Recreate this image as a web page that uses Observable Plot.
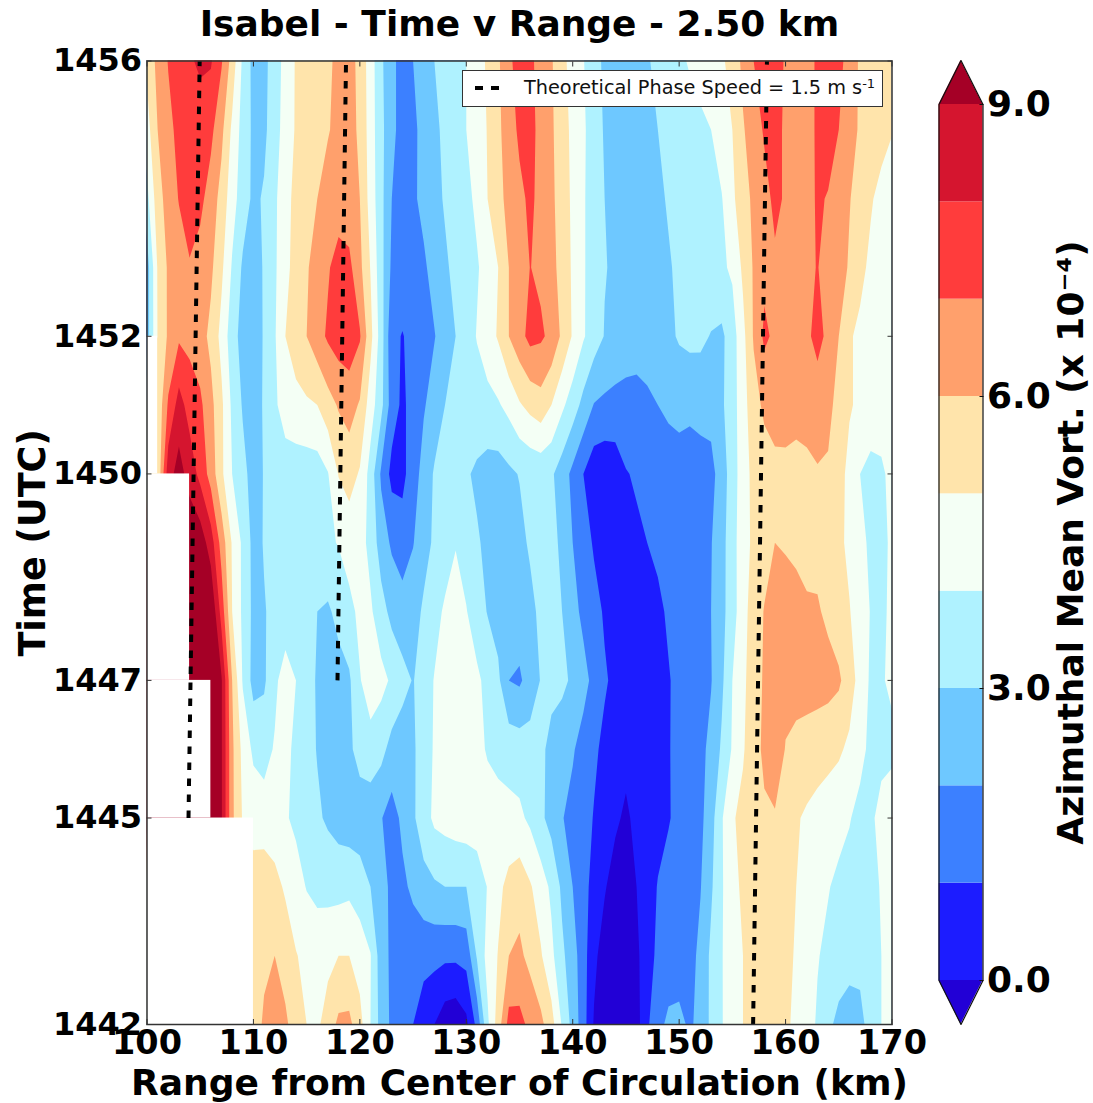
<!DOCTYPE html>
<html>
<head>
<meta charset="utf-8">
<script src="https://cdn.jsdelivr.net/npm/d3@7"></script>
<script src="https://cdn.jsdelivr.net/npm/@observablehq/plot@0.6"></script>
<style>
html,body{margin:0;padding:0;background:#fff;}
#wrap{position:relative;width:1093px;height:1103px;overflow:hidden;font-family:"DejaVu Sans",sans-serif;}
#wrap svg{position:absolute;left:0;top:0;}
#legend{position:absolute;left:462px;top:70px;width:419px;height:35px;background:#fff;border:1.5px solid #333;box-sizing:content-box;}
#legend svg{position:absolute;left:12px;top:0;}
#legend span{position:absolute;left:61px;top:5px;font-size:19.3px;line-height:24px;color:#111;white-space:nowrap;}
#legend sup{font-size:13px;line-height:0;vertical-align:6px;}
</style>
</head>
<body>
<div id="wrap"></div>
<script>
const xFirst = 100, xLast = 170;
const xTicks = [100,110,120,130,140,150,160,170];
const timeTicks = [1442,1445,1447,1450,1452,1456];
const levels = [0,1,2,3,4,5,6,7,8,9];
const barTicks = [0,3,6,9];
const colors = ["#2200d6","#1c1cff","#3c80ff","#6ec8ff","#aff2ff","#f4fff5","#ffe4ab","#ffa06c","#ff3c3c","#d5152f","#a50026"];

// Azimuthal mean vorticity (x 10^-4), one array per minute, range 100..170 km every 1 km. null = no data.
const t1456 = [5.2,6.3,7.05,7.4,7.85,8.2,8.1,7.1,5.6,3.8,
 2.7,2.7,3.55,4.3,5.1,5.35,5.6,5.85,6.2,6.4,
 5.7,4.5,3.2,2.2,1.7,2,2.5,3,3.3,3.7,
 4,4.55,5.15,5.85,6.8,7.4,7.2,6.65,6.1,5.3,
 4.6,4.05,3.4,2.8,2.5,2.4,2.5,2.9,3.25,3.55,
 3.8,4.1,4.35,4.6,4.85,5.35,6.25,7,7.4,7.4,
 6.9,6.65,6.75,7.1,7.4,7.3,6.6,5.85,5.7,5.6,5.5];
const t1455 = [4.6,6,6.75,7.25,7.45,7.4,7.25,6.25,4.8,3.6,
 2.8,2.8,3.55,4.45,5.1,5.4,5.7,5.95,6.2,6.3,
 5.85,4.5,3.3,2.2,1.7,1.8,2.3,2.8,3.2,3.6,
 4,4.5,5.05,5.8,6.5,7.2,7.25,6.75,6.15,5.45,
 4.75,4.15,3.5,2.9,2.6,2.5,2.6,2.8,3,3.2,
 3.4,3.6,3.8,4,4.5,5,5.9,6.55,7.1,7.3,
 6.85,6.6,6.75,7.1,7.35,7,6.3,5.9,5.6,5.35,5.05];
const t1454 = [3.7,5.6,6.4,7.05,7.3,7.25,6.55,5.65,4.4,3.5,
 2.8,3.1,3.8,4.7,5.25,5.6,6,6.3,6.5,6.4,
 6,4.6,3.3,2,1.7,1.85,2.25,2.7,3.1,3.45,
 3.75,4.2,5,5.7,6.3,6.75,7.2,6.7,6.2,5.55,
 4.8,4.1,3.55,3,2.75,2.65,2.7,2.75,2.9,3.05,
 3.25,3.4,3.6,3.8,3.95,4.8,5.6,6.2,6.7,7.2,
 6.9,6.7,6.7,7.1,6.95,6.5,6.05,5.6,5.1,4.7,4.5];
const t1453 = [2.5,5.1,6.15,6.5,6.95,6.6,6.2,5.2,3.9,2.85,
 2.5,3.1,3.85,4.7,5.4,5.9,6.4,6.9,7.4,7.25,
 6.25,4.95,3.35,1.8,1.6,1.65,1.85,2.35,2.85,3.25,
 3.55,3.9,4.4,5,6,6.4,7.02,6.8,6.3,5.65,
 4.85,4.1,3.55,3.05,2.85,2.75,2.7,2.75,2.8,2.95,
 3.1,3.3,3.5,3.65,3.85,4.15,5.2,6.1,6.75,6.85,
 6.7,6.75,6.85,7.03,6.7,6.4,5.9,5.25,4.8,4.6,4.4];
const t1452 = [2.5,5.05,6.15,6.85,6.7,6.4,5.75,4.7,3.45,2.6,
 2.4,3.1,3.9,5,5.5,6,6.6,7.15,7.5,7.6,
 7.1,5.3,3.5,1.25,0.95,1.3,1.65,1.95,2.5,3,
 3.55,4.05,4.55,5.1,6,6.65,7.3,7.15,6.75,5.8,
 4.9,4.1,3.5,2.95,2.7,2.6,2.5,2.5,2.6,2.8,
 3.1,3.25,3.2,2.95,2.8,3.55,4.7,6.1,7.2,6.8,
 6.6,6.6,6.75,7.4,6.7,6,5.1,4.8,4.6,4.4,4.2];
const t1451 = [null,5.2,7.15,8.4,7.6,7.2,6.3,5.2,3.8,2.9,
 2.55,3.1,3.8,4.55,4.7,4.85,5,5.6,6.1,6.4,
 5.9,4.5,3.3,1.5,0.8,1.4,1.9,2.45,3,3.2,
 3.35,3.55,3.7,3.9,4.3,4.9,5.3,5.6,5,4.2,
 3.5,2.7,1.95,1.8,1.7,1.6,1.6,1.8,2,2.2,
 2.3,2.2,2.35,2.4,2.85,3.55,4.6,5.6,6.2,6.3,
 6.4,6.5,6.4,6.3,6.2,5.75,5.1,4.8,4.6,4.45,4.3];
const t1450 = [null,5.1,8.6,9.4,8.6,7.7,6.6,5.2,4,3.3,
 2.6,3.05,3.25,3.4,3.45,3.45,3.5,3.95,5.05,5.4,
 4.9,3.6,1.85,0.7,0.75,1.5,2.4,3.1,3.3,3.25,
 3.1,2.85,2.6,2.55,2.8,3.05,3.2,3.3,3.15,2.5,
 1.75,1,0.35,0.25,0.4,0.95,1.1,1.25,1.35,1.45,
 1.55,1.55,1.55,1.65,2.55,3.45,4.6,5.25,5.5,5.8,
 5.75,5.5,5.75,5.95,5.9,5.4,4.7,4,3.7,3.85,4.25];
const t1449 = [null,null,null,null,9.8,9.6,8.5,6.6,4.9,3.8,
 2.7,3.05,3.2,3.3,3.45,3.55,3.7,3.85,4.05,4.4,
 4.4,3.7,2.5,1.85,1.45,1.95,2.65,3.15,3.5,3.95,
 3.55,3.1,2.8,2.6,2.5,2.7,3.15,3.4,3.3,2.8,
 2,1.4,0.9,0.7,0.65,0.7,0.85,1,1.15,1.3,
 1.5,1.65,1.8,1.95,2.65,3.6,4.6,5.2,5.6,6,
 5.87,5.75,5.4,5.7,5.5,5.2,4.8,4.3,3.8,3.7,4.2];
const t1448 = [null,null,null,null,10.5,10.5,10,7.6,5,3.8,
 2.75,2.95,3.2,3.3,3.35,3.3,3,2.85,3.3,3.75,
 4.2,4.15,3.4,2.7,2.45,2.6,3.15,3.65,4.15,4.4,
 4.05,3.45,2.95,2.6,2.5,2.55,2.7,3.25,3.35,3,
 2.35,1.75,1.3,0.9,0.65,0.6,0.6,0.7,0.85,1.1,
 1.3,1.55,1.75,2,2.7,3.55,4.65,5.45,6.05,6.4,
 6.6,6.4,6.25,6.1,5.8,5.45,5.05,4.5,3.95,3.75,4.25];
const t1447 = [null,null,null,null,10.5,10.5,10.3,9.1,6,3.9,
 2.65,2.85,3.75,4.55,4,3.4,2.9,2.6,2.6,2.85,
 3.95,4.4,4.3,3.85,3.3,2.95,3.5,4.05,4.3,4.45,
 4.4,4.2,3.7,3.2,2,1.85,2.45,3.05,3.2,3.2,
 2.85,2.35,1.7,1.1,0.8,0.65,0.6,0.6,0.7,0.95,
 1.2,1.45,1.7,1.95,2.8,4,4.75,5.6,6.1,6.2,
 6.3,6.35,6.4,6.4,6.35,6.15,5.5,4.6,3.85,3.85,4.3];
const t1446 = [null,null,null,null,null,null,10.3,9.1,6.2,4.7,
 3.8,3.6,4.1,4.3,3.75,3.35,2.95,2.7,2.55,2.8,
 3.4,3.7,3.3,2.65,2.5,2.85,3.5,4.1,4.3,4.4,
 4.4,4.3,3.9,3.7,3.6,3.5,3.4,3.15,2.8,2.45,
 2.1,1.6,1.15,0.8,0.6,0.35,0.45,0.55,0.7,0.95,
 1.25,1.5,1.75,2.25,3.15,4.1,4.9,5.6,6.2,6.65,
 5.95,5.75,5.6,5.45,5.3,5.15,4.8,4.25,3.8,3.7,3.6];
const t1445 = [null,null,null,null,null,null,10.2,9.1,6.2,4.9,
 4.65,4.5,4.35,4.1,3.8,3.5,3.15,2.85,2.6,2.45,
 2.4,2.25,2.05,1.6,2.2,2.85,3.55,4.2,4.35,4.5,
 4.6,4.6,4.5,4.4,4.3,4.2,3.8,3.2,2.65,2.05,
 1.7,1.35,0.95,0.6,0.2,-0.2,0.3,0.45,0.7,0.95,
 1.2,1.45,1.75,2.6,3.9,4.9,5.25,5.5,5.85,5.9,
 5.6,5.1,4.85,4.65,4.5,4.3,4.05,3.75,3.8,4.35,5.05];
const t1444 = [null,null,null,null,null,null,null,null,null,null,
 5.4,5.6,5.35,4.85,4.4,3.95,3.8,3.7,3.65,3.75,
 3.5,3,2.35,1.8,1.8,2.2,2.65,2.85,3,3,
 3,3.35,4.05,4.75,5.3,5.6,5.1,4.5,3.8,2.8,
 2,1.3,0.7,0.1,-0.5,-0.5,0,0.55,1.05,1.25,
 1.5,1.75,1.95,2.85,3.9,4.65,5.2,5.4,5.5,5.5,
 5.4,5,4.65,4.35,4.05,3.8,3.7,3.7,3.8,4.05,4.3];
const t1443 = [null,null,null,null,null,null,null,null,null,null,
 5.5,5.8,6,5.65,5.05,4.75,4.45,4.7,5,5,
 4.55,4.05,2.45,1.8,1.5,1.4,1.3,1.3,1.2,1.2,
 1.35,3.1,4.35,5.05,6,6.2,5.7,5.1,4.25,3.2,
 2.45,1.4,0.25,-0.5,-0.9,-0.9,-0.25,0.7,1.15,1.3,
 1.5,1.65,2.25,3.2,3.95,4.5,5,5.4,5.5,5.55,
 5.4,4.85,4.5,4.05,3.8,3.5,3.3,3.25,3.4,4,4.3];
const t1442 = [null,null,null,null,null,null,null,null,null,null,
 5.5,6.15,6.4,6.15,5.6,5,4.8,5.5,6.2,6.25,
 5.35,4,2.6,1.8,1.4,1,0.5,0,-0.6,-0.75,
 -0.25,1.3,3.8,5.5,7.35,7.3,6.75,6.25,5.4,3.9,
 2.65,1.45,-0.1,-0.6,-0.9,-0.9,-0.4,0.85,1.65,2.25,
 2.25,1.85,2.3,3.2,3.95,4.45,5,5.3,5.4,5.4,
 5.2,4.75,4.35,3.9,3.2,2.75,2.6,2.75,3.35,4,4.4];
const rows = [t1456,t1455,t1454,t1453,t1452,t1451,t1450,t1449,t1448,t1447,t1446,t1445,t1444,t1443,t1442];

// White no-data blocks (range end, from time, to time)
const maskEnd = [101,104,106,110];
const maskFrom = [1450,1447,1445,1442];
const maskTo = [1452,1450,1447,1445];

// Theoretical phase speed lines
const phaseRange = [[103.9,104.95],[117.9,118.7],[156.95,158.25]];
const phaseTime = [[1445,1456],[1447,1456],[1442,1456]];

const nx = xLast - xFirst + 1, ny = rows.length;
// under the white blocks a null cell takes the first valid value of its row; it is never visible
const grid = rows.flatMap(r => { const first = r.find(v => v != null); return r.map(v => v == null ? first : v); });
const masks = maskEnd.map((e,i) => ({x1:xFirst,x2:e,y1:maskFrom[i],y2:maskTo[i]}));
const phase = phaseRange.flatMap((r,i) => r.map((x,j) => ({x, y:phaseTime[i][j], id:i})));
const colorScale = {type:"threshold", domain:levels, range:colors};
const font = "'DejaVu Sans'";
const tickFont = {fontWeight:"bold", fill:"#000"};

const main = Plot.plot({
  width:1093, height:1103,
  marginLeft:146.5, marginRight:201.5, marginTop:60.5, marginBottom:79,
  style:{fontFamily:font, background:"transparent", overflow:"visible"},
  x:{domain:[xFirst,xLast]},
  y:{domain:[1442,1456]},
  color:colorScale,
  marks:[
    Plot.contour(grid,{width:nx,height:ny,x1:xFirst-0.5,x2:xLast+0.5,y1:1456.5,y2:1441.5,
      fill:Plot.identity,thresholds:[-100,...levels],clip:true}),
    Plot.rect(masks,{x1:"x1",x2:"x2",y1:"y1",y2:"y2",fill:"#fff"}),
    Plot.line(phase,{x:"x",y:"y",z:"id",stroke:"#000",strokeWidth:4,strokeDasharray:"7.5,8.5",strokeLinecap:"butt",clip:true}),
    Plot.axisX({anchor:"bottom",ticks:xTicks,tickSize:-5,tickPadding:11,tickFormat:d=>String(d),label:null,stroke:"#333",fontSize:33.5,...tickFont}),
    Plot.axisX({anchor:"top",ticks:xTicks,tickSize:-5,tickFormat:()=>"",label:null,stroke:"#333"}),
    Plot.axisY({anchor:"left",ticks:timeTicks,tickSize:-5,tickPadding:10,tickFormat:d=>String(d),label:null,stroke:"#333",fontSize:32,...tickFont}),
    Plot.axisY({anchor:"right",ticks:timeTicks,tickSize:-5,tickFormat:()=>"",label:null,stroke:"#333"}),
    Plot.frame({stroke:"#333",strokeWidth:1.5}),
    Plot.text(["Isabel - Time v Range - 2.50 km"],{frameAnchor:"top",dy:-51,fontSize:36,fontWeight:"bold",fill:"#000"}),
    Plot.text(["Range from Center of Circulation (km)"],{frameAnchor:"bottom",dy:70,fontSize:36,fontWeight:"bold",fill:"#000"}),
    Plot.text(["Time (UTC)"],{frameAnchor:"left",rotate:-90,dx:-114,textAnchor:"middle",fontSize:36.5,fontWeight:"bold",fill:"#000"})
  ]
});

const band = levels.slice(0,-1).map(v => ({lo:v,hi:v+1}));
const capTop = [{y:9,x1:0,x2:1},{y:9.452,x1:0.5,x2:0.5}];
const capBottom = [{y:0,x1:0,x2:1},{y:-0.452,x1:0.5,x2:0.5}];
const outline = [[0,0],[0,9],[0.5,9.452],[1,9],[1,0],[0.5,-0.452],[0,0]].map(([x,y])=>({x,y}));

const bar = Plot.plot({
  width:1093, height:1103,
  marginLeft:938.5, marginRight:110.5, marginTop:104, marginBottom:123,
  style:{fontFamily:font, background:"transparent", overflow:"visible"},
  x:{domain:[0,1],axis:null},
  y:{domain:[0,9]},
  color:colorScale,
  marks:[
    Plot.rect(band,{x1:0,x2:1,y1:"lo",y2:"hi",fill:"lo"}),
    Plot.areaX(capTop,{x1:"x1",x2:"x2",y:"y",fill:colors[colors.length-1]}),
    Plot.areaX(capBottom,{x1:"x1",x2:"x2",y:"y",fill:colors[0]}),
    Plot.line(outline,{x:"x",y:"y",stroke:"#111",strokeWidth:1.2}),
    Plot.axisY({anchor:"right",ticks:barTicks,tickSize:-4,tickPadding:8,tickFormat:d3.format(".1f"),label:null,stroke:"#111",fontSize:36,...tickFont}),
    Plot.text(["Azimuthal Mean Vort. (x 10\u207B\u2074)"],{frameAnchor:"right",rotate:-90,dx:88,textAnchor:"middle",fontSize:36,fontWeight:"bold",fill:"#000"})
  ]
});

const wrap = document.getElementById("wrap");
wrap.append(main, bar);
const legend = document.createElement("div");
legend.id = "legend";
legend.innerHTML = '<svg width="40" height="35"><line x1="0" x2="26" y1="17" y2="17" stroke="#000" stroke-width="4" stroke-dasharray="8,8"/></svg><span>Theoretical Phase Speed = 1.5 m s<sup>-1</sup></span>';
wrap.append(legend);
</script>
</body>
</html>
